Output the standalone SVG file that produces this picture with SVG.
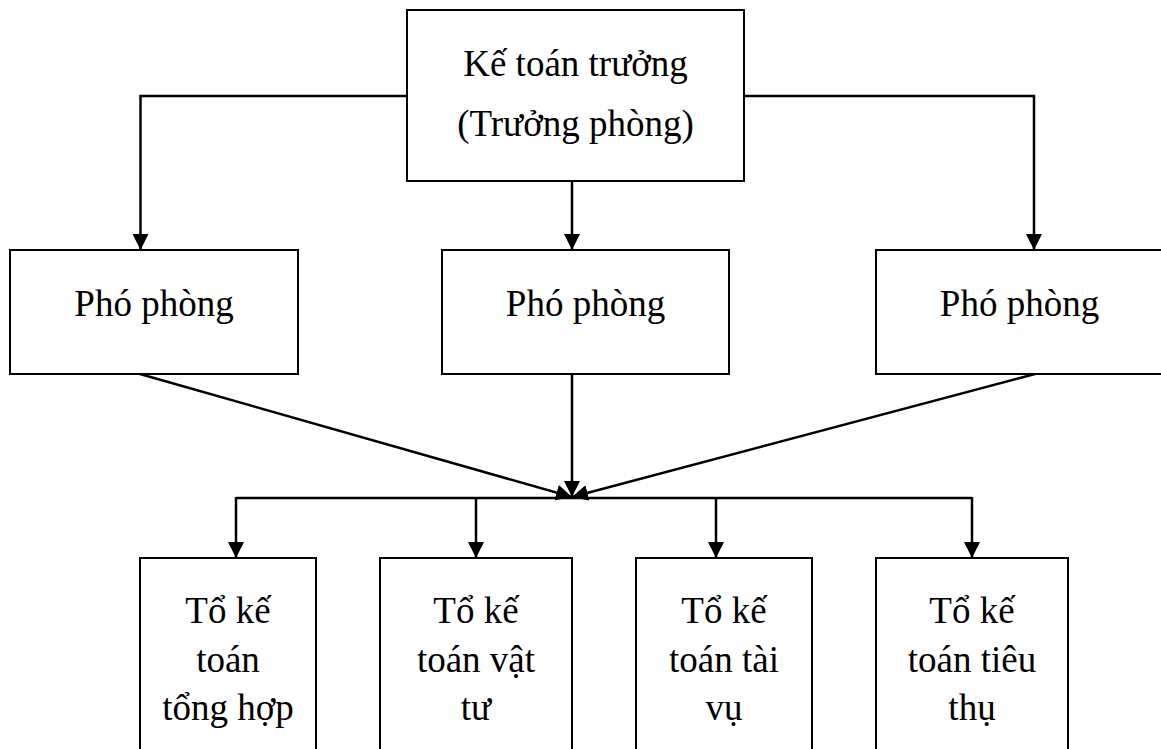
<svg xmlns="http://www.w3.org/2000/svg" width="1161" height="749" viewBox="0 0 1161 749">
  <style>
    .box { fill: #fff; stroke: #000; stroke-width: 2; }
    .lbl { font-family: "Liberation Serif", "Times New Roman", serif; font-size: 37px; fill: #000; text-anchor: middle; }
    .conn { fill: none; stroke: #000; stroke-width: 2.5; }
  </style>
  <defs>
    <marker id="arr" viewBox="0 0 16 16" refX="16" refY="8" markerWidth="16" markerHeight="16" markerUnits="userSpaceOnUse" orient="auto">
      <path d="M0,0 L16,8 L0,16 z" fill="#000"/>
    </marker>
  </defs>
  <rect width="1161" height="749" fill="#fff"/>

  <g id="connectors">
    <path class="conn" d="M407,96 H140.5 V250" marker-end="url(#arr)"/>
    <path class="conn" d="M744,96 H1034 V250" marker-end="url(#arr)"/>
    <path class="conn" d="M572,181 V250" marker-end="url(#arr)"/>
    <path class="conn" d="M140,374 L572,497" marker-end="url(#arr)"/>
    <path class="conn" d="M572,374 V497" marker-end="url(#arr)"/>
    <path class="conn" d="M1035,374 L572,497" marker-end="url(#arr)"/>
    <path class="conn" d="M236,498 H972"/>
    <path class="conn" d="M236,497 V558" marker-end="url(#arr)"/>
    <path class="conn" d="M476,497 V558" marker-end="url(#arr)"/>
    <path class="conn" d="M716,497 V558" marker-end="url(#arr)"/>
    <path class="conn" d="M972,497 V558" marker-end="url(#arr)"/>
  </g>

  <g id="ke-toan-truong">
    <rect class="box" x="407" y="10" width="337" height="171"/>
    <text class="lbl" x="575.5" y="76">Kế toán trưởng</text>
    <text class="lbl" x="575.5" y="136">(Trưởng phòng)</text>
  </g>

  <g id="pho-phong-1">
    <rect class="box" x="10" y="250" width="288" height="124"/>
    <text class="lbl" x="154" y="316">Phó phòng</text>
  </g>
  <g id="pho-phong-2">
    <rect class="box" x="442" y="250" width="287" height="124"/>
    <text class="lbl" x="585.5" y="316">Phó phòng</text>
  </g>
  <g id="pho-phong-3">
    <rect class="box" x="876" y="250" width="290" height="124"/>
    <text class="lbl" x="1019.5" y="316">Phó phòng</text>
  </g>

  <g id="to-tong-hop">
    <rect class="box" x="140" y="558" width="176" height="200"/>
    <text class="lbl" x="228" y="623">Tổ kế</text>
    <text class="lbl" x="228" y="672">toán</text>
    <text class="lbl" x="228" y="720">tổng hợp</text>
  </g>
  <g id="to-vat-tu">
    <rect class="box" x="380" y="558" width="192" height="200"/>
    <text class="lbl" x="476" y="623">Tổ kế</text>
    <text class="lbl" x="476" y="672">toán vật</text>
    <text class="lbl" x="476" y="720">tư</text>
  </g>
  <g id="to-tai-vu">
    <rect class="box" x="636" y="558" width="176" height="200"/>
    <text class="lbl" x="724" y="623">Tổ kế</text>
    <text class="lbl" x="724" y="672">toán tài</text>
    <text class="lbl" x="724" y="720">vụ</text>
  </g>
  <g id="to-tieu-thu">
    <rect class="box" x="876" y="558" width="192" height="200"/>
    <text class="lbl" x="972" y="623">Tổ kế</text>
    <text class="lbl" x="972" y="672">toán tiêu</text>
    <text class="lbl" x="972" y="720">thụ</text>
  </g>
</svg>
